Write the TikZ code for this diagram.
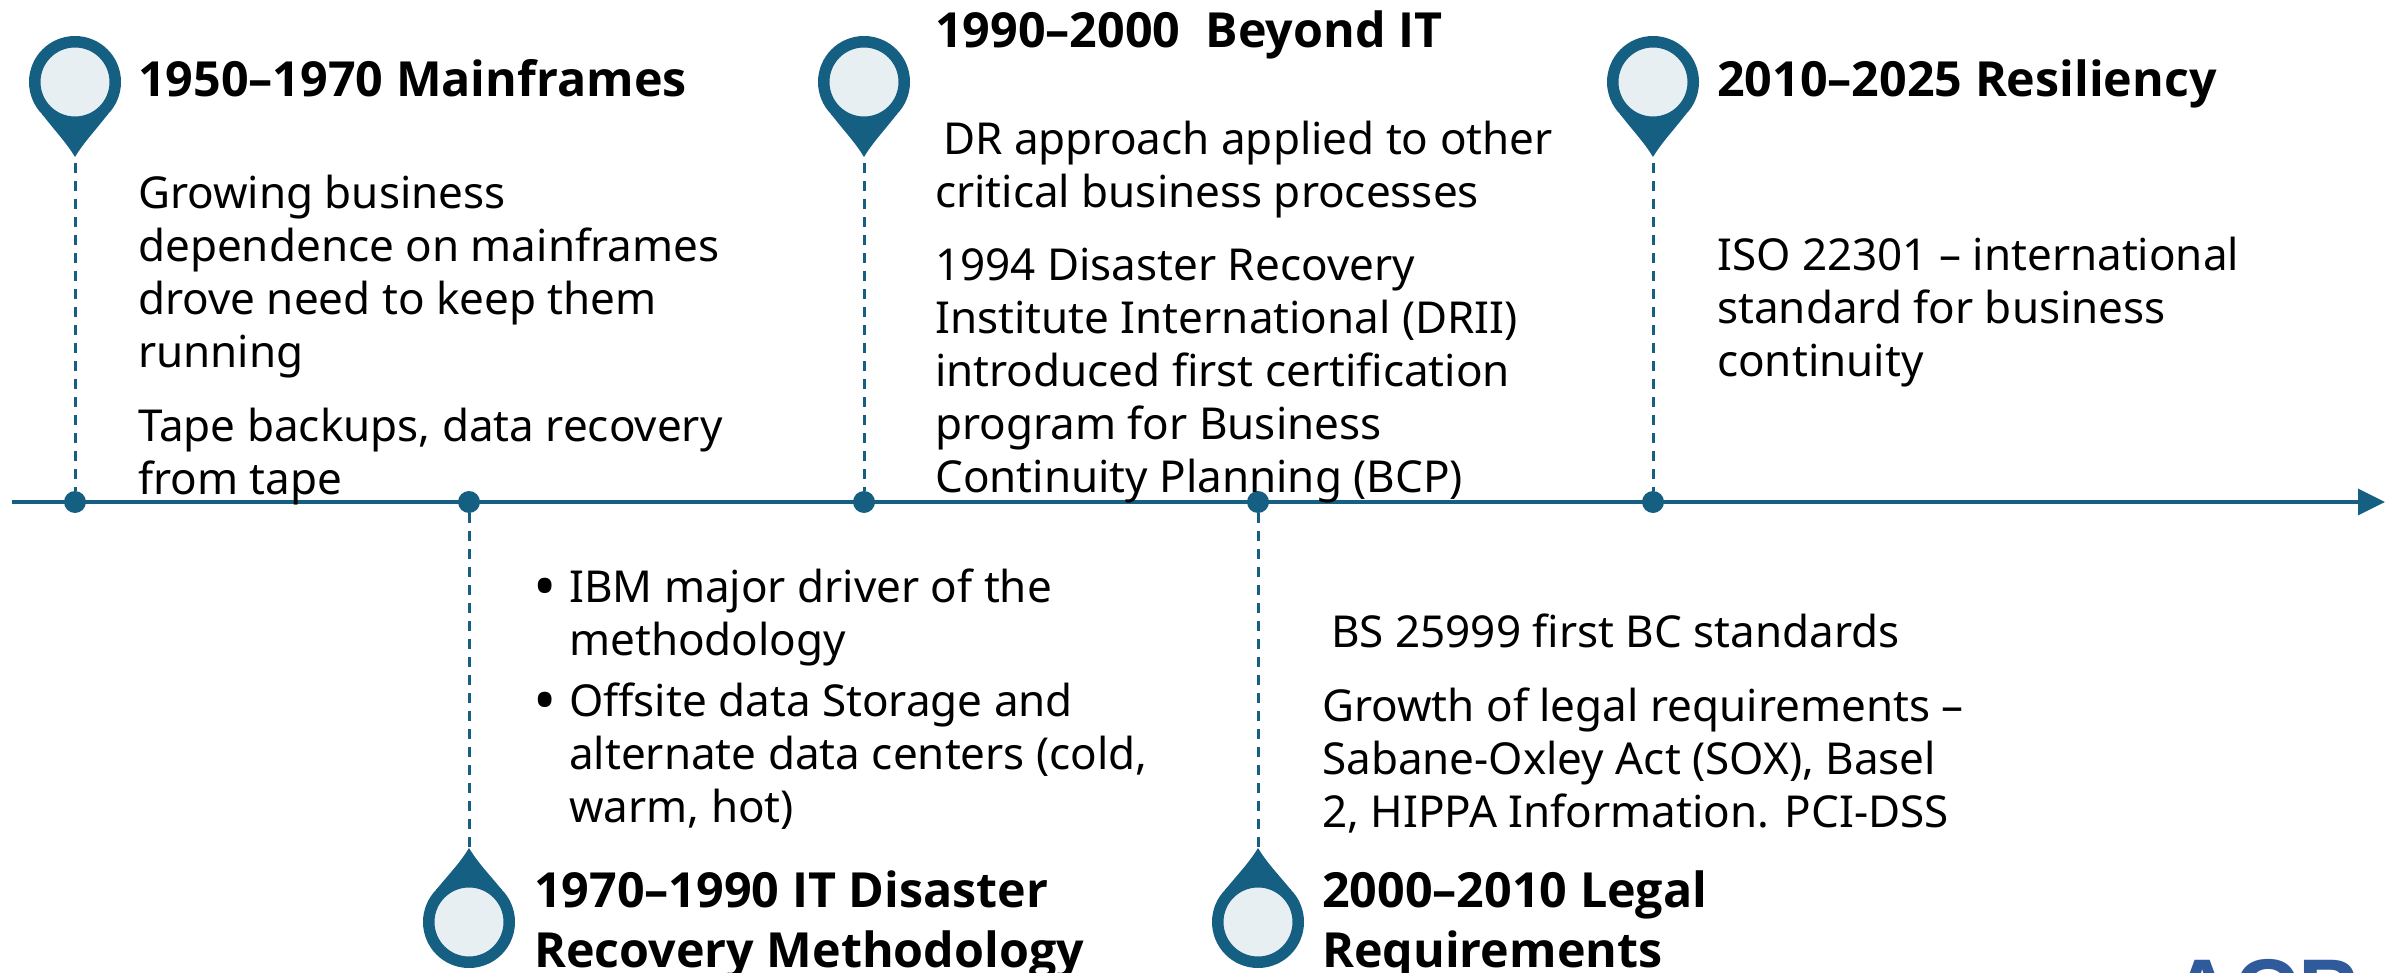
\documentclass[tikz,border=0pt]{standalone}
\usepackage{fontspec}
\setmainfont{Noto Sans}
\newfontfamily\headfont{Open Sans}
\newfontfamily\logofont{Liberation Sans}
\usetikzlibrary{arrows.meta}
\definecolor{teal}{HTML}{156082}
\definecolor{pinface}{HTML}{E8EFF3}
\definecolor{logoblue}{HTML}{2F5A9C}
\newcommand{\bigbullet}{\llap{\raisebox{-6pt}{\fontsize{62}{53}\selectfont •}\hspace{12pt}}}
\tikzset{
  x=1pt,y=-1pt,
  axisline/.style={draw=teal,line width=3.5pt,-{Triangle[length=27pt,width=26pt]}},
  stem/.style={draw=teal,line width=3pt,dash pattern=on 10pt off 8pt},
  tickdot/.style={circle,fill=teal,inner sep=0pt,minimum size=22pt},
  pinhead/.style={circle,fill=pinface,draw=teal,line width=11.5pt,inner sep=0pt,minimum size=80.5pt},
  head/.style={anchor=base west,inner sep=0pt,align=left,text=black,font=\headfont\fontsize{48.4}{60}\selectfont\bfseries},
  body/.style={anchor=base west,inner sep=0pt,align=left,text=black,font=\fontsize{44}{53}\selectfont},
}
\begin{document}
\begin{tikzpicture}
\path[use as bounding box] (0,0) rectangle (2385,973);
% axis
\coordinate (axL) at (12,502);
\coordinate (axR) at (2385,502);
\draw[axisline] (axL) -- (axR);
% dots
\node[tickdot] (d1) at (75,502) {};
\node[tickdot] (d2) at (469,502) {};
\node[tickdot] (d3) at (864,502) {};
\node[tickdot] (d4) at (1258,502) {};
\node[tickdot] (d5) at (1653,502) {};
% upper pins
\foreach \n/\px in {1/75,3/864,5/1653}{
  \coordinate (t\n) at (\px,157);
  \fill[teal] (t\n) .. controls ([xshift=-9]t\n|-0,142) and ([xshift=-20]t\n|-0,131) .. ([xshift=-33]t\n|-0,114)
     -- ([xshift=33]t\n|-0,114) .. controls ([xshift=20]t\n|-0,131) and ([xshift=9]t\n|-0,142) .. (t\n) -- cycle;
  \node[pinhead] (p\n) at (\px,82) {};
  \draw[stem] (t\n) ++(0,6) -- (d\n);
}
% lower pins
\foreach \n/\px in {2/469,4/1258}{
  \coordinate (t\n) at (\px,848);
  \fill[teal] (t\n) .. controls ([xshift=-9]t\n|-0,863) and ([xshift=-20]t\n|-0,874) .. ([xshift=-33]t\n|-0,890)
     -- ([xshift=33]t\n|-0,890) .. controls ([xshift=20]t\n|-0,874) and ([xshift=9]t\n|-0,863) .. (t\n) -- cycle;
  \node[pinhead] (p\n) at (\px,922) {};
  \draw[stem] (d\n) -- (t\n);
}
% texts (the anchor is the baseline of the last line)
\node[head] (h1) at (138,97) {1950–1970 Mainframes};
\node[body] (b1a) at (138,368) {Growing business\\dependence on mainframes\\drove need to keep them\\running};
\node[body] (b1b) at (138,494) {Tape backups, data recovery\\from tape};
\node[head] (h3) at (935,48) {1990–2000\ \ Beyond IT};
\node[body] (b3a) at (935,208) {\hspace{8pt}DR approach applied to other\\critical business processes};
\node[body] (b3b) at (935,492) {1994 Disaster Recovery\\Institute International (DRII)\\introduced first certification\\program for Business\\Continuity Planning (BCP)};
\node[head] (h5) at (1717,97) {2010–2025 Resiliency};
\node[body] (b5) at (1717,377) {ISO 22301 – international\\standard for business\\continuity};
\node[body] (b2a) at (569,655) {\bigbullet IBM major driver of the\\methodology};
\node[body] (b2b) at (569,822) {\bigbullet Offsite data Storage and\\alternate data centers (cold,\\warm, hot)};
\node[head] (h2) at (534,967) {1970–1990 IT Disaster\\Recovery Methodology};
\node[body] (b4a) at (1331,647) {BS 25999 first BC standards};
\node[body] (b4b) at (1322,827) {Growth of legal requirements –\\Sabane-Oxley Act (SOX), Basel\\2, HIPPA Information. PCI-DSS};
\node[head] (h4) at (1322,967) {2000–2010 Legal\\Requirements};
% logo, cut off by the lower edge
\begin{scope}
\clip (0,0) rectangle (2385,973);
\node[anchor=base west,inner sep=0pt,text=logoblue,font=\fontsize{89}{100}\selectfont\logofont\bfseries] (logo) at (2170,1021) {ACP};
\end{scope}
\end{tikzpicture}
\end{document}
